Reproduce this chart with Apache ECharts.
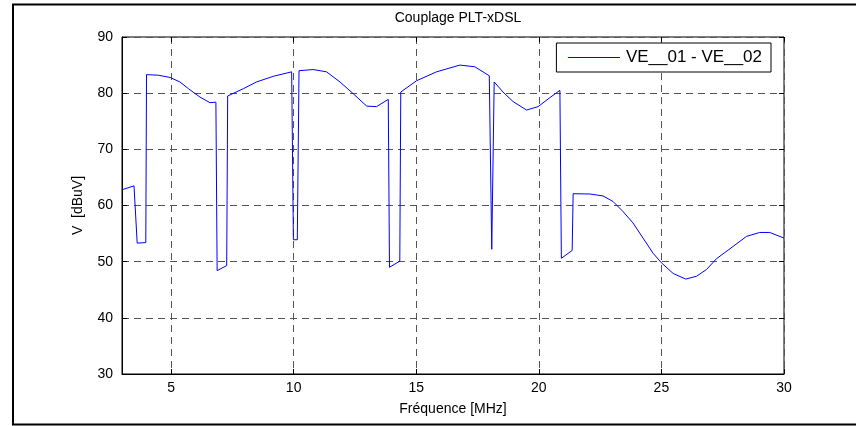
<!DOCTYPE html>
<html lang="fr">
<head>
    <meta charset="UTF-8">
    <title>Couplage PLT-xDSL</title>
    <style>
        html,body{margin:0;padding:0;background:#fff;}
        #lineChart{width:856px;height:426px;}
    </style>
</head>
<body>
<div id="lineChart"></div>
<script src="https://cdn.jsdelivr.net/npm/echarts@6/dist/echarts.min.js"></script>
<script>
    // valeurs
    let freq = [3.0, 3.49, 3.62, 3.97, 4.0, 4.48, 4.96, 5.36, 5.71, 6.18, 6.59, 6.83,
        6.88, 7.27, 7.31, 7.95, 8.49, 9.17, 9.92, 9.96, 9.99, 10.15, 10.22, 10.8,
        11.34, 11.89, 12.43, 12.98, 13.38, 13.86, 13.91, 14.33, 14.37, 15.01, 15.83,
        16.78, 17.39, 17.98, 18.08, 18.18, 18.54, 18.95, 19.5, 19.97, 20.45, 20.86,
        20.92, 21.36, 21.4, 22.08, 22.62, 23.03, 23.44, 23.84, 24.25, 24.66, 25.0,
        25.48, 25.99, 26.43, 26.84, 27.24, 27.92, 28.47, 29.01, 29.42, 30.0];
    let volts = [62.8, 63.5, 53.3, 53.4, 83.3, 83.2, 82.8, 82.0, 80.8, 79.3, 78.3, 78.4,
        48.4, 49.3, 79.5, 80.8, 82.0, 83.0, 83.8, 83.8, 53.9, 53.9, 84.0, 84.2,
        83.8, 82.0, 79.9, 77.7, 77.6, 78.9, 49.0, 50.1, 80.2, 82.2, 83.8,
        85.0, 84.7, 83.1, 52.2, 82.0, 80.2, 78.5, 77.0, 77.6, 79.2, 80.5,
        50.6, 52.0, 62.1, 62.05, 61.7, 60.7, 58.9, 56.9, 54.2, 51.5, 49.8,
        47.9, 46.9, 47.4, 48.6, 50.5, 52.7, 54.5, 55.2, 55.2, 54.2];
    let xTicks = [5, 10, 15, 20, 25, 30];
    let seriesName = 'VE__01 - VE__02';

    let font = 'Liberation Sans, Arial, sans-serif';
    let gridLine = {show: true, lineStyle: {color: '#555', width: 1, type: [7, 5]}};

    function lineChart(){
        let myChart = echarts.init(document.getElementById('lineChart'));
        let points = freq.map(function (f, i) { return [f, volts[i]]; });
        let option = {
            animation: false,
            backgroundColor: '#fff',
            textStyle: {fontFamily: font},
            title: {
                text: 'Couplage PLT-xDSL',
                left: 453,
                top: 6,
                textAlign: 'center',
                textStyle: {fontSize: 14, fontWeight: 'normal', color: '#000', fontFamily: font}
            },
            legend: {
                data: [seriesName],
                right: 85,
                top: 43,
                padding: [6, 9, 6, 11],
                borderColor: '#000',
                borderWidth: 1,
                backgroundColor: '#fff',
                itemWidth: 52,
                itemHeight: 14,
                itemGap: 6,
                itemStyle: {opacity: 0},
                lineStyle: {color: '#0000ff', width: 1},
                textStyle: {fontSize: 17, color: '#000', fontFamily: font, padding: [0, 0, 0, 1]}
            },
            grid: {
                left: 122,
                right: 72,
                top: 37,
                bottom: 52,
                show: true,
                borderColor: '#000',
                borderWidth: 1
            },
            xAxis: [{
                type: 'value',
                min: 3,
                max: 30,
                interval: 5,
                name: 'Fréquence [MHz]',
                nameLocation: 'middle',
                nameGap: 28,
                nameTextStyle: {fontSize: 14, color: '#000', fontFamily: font},
                axisLine: {show: true, lineStyle: {color: '#000'}},
                axisTick: {show: true, inside: true, length: 5, lineStyle: {color: '#000'},
                    customValues: xTicks},
                axisLabel: {color: '#000', fontSize: 14, margin: 7, fontFamily: font,
                    customValues: xTicks},
                splitLine: gridLine
            }, {
                type: 'value',
                position: 'top',
                min: 3,
                max: 30,
                axisLine: {show: false},
                axisTick: {show: true, inside: true, length: 5, lineStyle: {color: '#000'},
                    customValues: xTicks},
                axisLabel: {show: false},
                splitLine: {show: false}
            }],
            yAxis: [{
                type: 'value',
                min: 30,
                max: 90,
                interval: 10,
                name: 'V  [dBuV]',
                nameLocation: 'middle',
                nameGap: 37,
                nameTextStyle: {fontSize: 14, color: '#000', fontFamily: font},
                axisLine: {show: true, lineStyle: {color: '#000'}},
                axisTick: {show: true, inside: true, length: 5, lineStyle: {color: '#000'}},
                axisLabel: {color: '#000', fontSize: 14, margin: 9, fontFamily: font},
                splitLine: gridLine
            }, {
                type: 'value',
                position: 'right',
                min: 30,
                max: 90,
                interval: 10,
                axisLine: {show: false},
                axisTick: {show: true, inside: true, length: 5, lineStyle: {color: '#000'}},
                axisLabel: {show: false},
                splitLine: {show: false}
            }],
            series: [{
                name: seriesName,
                type: 'line',
                showSymbol: false,
                symbol: 'none',
                color: '#0000ff',
                lineStyle: {width: 1, color: '#0000ff'},
                data: points
            }],
            graphic: [{
                type: 'rect',
                silent: true,
                shape: {x: 13, y: 4.5, width: 860, height: 420},
                style: {fill: 'none', stroke: '#000', lineWidth: 2}
            }]
        };
        myChart.setOption(option);
    }

    lineChart();
</script>
</body>
</html>
